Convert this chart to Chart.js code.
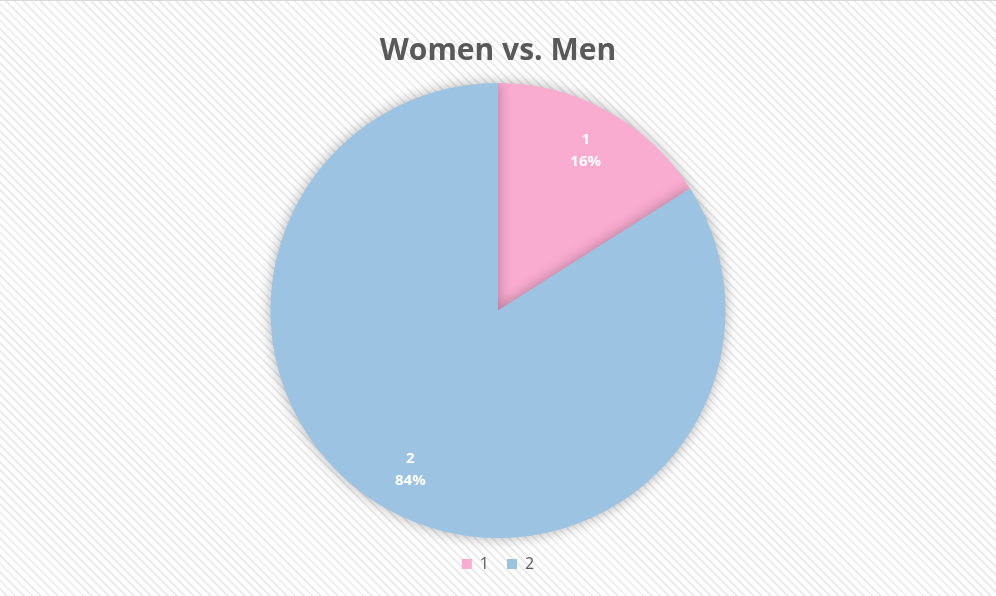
<!DOCTYPE html>
<html>
<head>
<meta charset="utf-8">
<script src="https://cdn.jsdelivr.net/npm/chart.js@4"></script>
<style>
  html, body { margin:0; padding:0; }
  body {
    width:996px; height:596px; overflow:hidden;
    background: repeating-linear-gradient(45deg, #ffffff 0px, #ffffff 4px, #ececec 4px, #ececec 6px);
  }
  #wrap { width:996px; height:596px; border-top:1px solid #d9d9d9; box-sizing:border-box; }
</style>
</head>
<body>
<div id="wrap"><canvas id="pieChart" width="996" height="595"></canvas></div>
<script>
var labels = ['1', '2'];
var values = [16, 84];
var colors = ['#f9abd0', '#9dc3e3'];

// soft shadow behind the pie
var shadowPlugin = {
    id:'shadow',
    beforeDatasetDraw:function(chart){
        chart.ctx.save();
        chart.ctx.shadowColor = 'rgba(0,0,0,0.3)';
        chart.ctx.shadowBlur = 14;
    },
    afterDatasetDraw:function(chart){
        chart.ctx.restore();
    }
};

// white "label / percent" text inside slices
var sliceLabels = {
    id:'sliceLabels',
    afterDatasetsDraw:function(chart){
        var ctx = chart.ctx;
        var meta = chart.getDatasetMeta(0);
        var total = values.reduce(function(a,b){return a+b;}, 0);
        ctx.save();
        ctx.fillStyle = '#ffffff';
        ctx.font = 'bold 15px "Open Sans", sans-serif';
        ctx.textAlign = 'center';
        ctx.textBaseline = 'middle';
        meta.data.forEach(function(arc, i){
            var mid = (arc.startAngle + arc.endAngle) / 2;
            var r = arc.outerRadius * 0.8;
            var x = arc.x + Math.cos(mid) * r;
            var y = arc.y + Math.sin(mid) * r;
            ctx.fillText(labels[i], x, y - 11);
            ctx.fillText(Math.round(values[i] / total * 100) + '%', x, y + 11);
        });
        ctx.restore();
    }
};

var pieChart = new Chart(document.getElementById('pieChart'), {
    type:'pie',
    plugins:[shadowPlugin, sliceLabels],
    data:{
        labels:labels,
        datasets:[{
            data:values,
            backgroundColor:colors,
            borderWidth:0
        }]
    },
    options:{
        responsive:false,
        animation:false,
        layout:{ padding:{ top:12, bottom:14 } },
        plugins:{
            title:{
                display:true,
                text:'Women vs. Men',
                color:'#595959',
                font:{ family:'"Open Sans", sans-serif', size:30, weight:'bold' },
                padding:{ top:20, bottom:14 }
            },
            legend:{
                position:'bottom',
                labels:{
                    color:'#595959',
                    font:{ family:'"Open Sans", sans-serif', size:16 },
                    boxWidth:10, boxHeight:10,
                    padding:18
                }
            },
            tooltip:{ enabled:false }
        }
    }
});
</script>
</body>
</html>
